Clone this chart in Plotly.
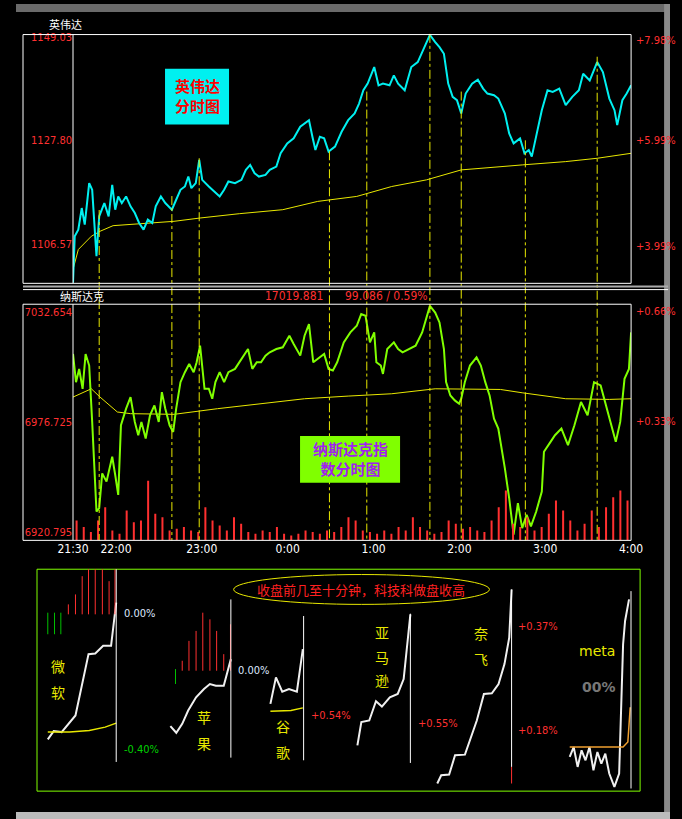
import plotly.graph_objects as go

W, H = 682, 819
FONT = "Noto Sans CJK SC"

# ---------------- data ----------------
nv_t = [0,1.2,3.7,6.1,8.2,11.3,13.4,15.2,16.4,18.3,21.9,24.9,27.4,29.5,31.6,34.1,37.1,40.2,43.2,46.2,49.3,52.3,55.4,57.8,61.4,64.5,69.1,72.1,75.1,78.2,80.6,82.7,85.8,88.2,90.3,94.9,99.5,102.5,105.6,108.6,113.2,117.7,120.8,123.8,126.9,129.9,134.5,137.5,142.1,145.1,149.7,154.2,158.8,161.8,164.9,167.3,169.4,172.5,175.5,178.6,183.1,187.7,192.3,196.8,199.9,202.9,205.9,210.5,213.5,216.6,221.2,224.2,227.2,231.8,236.4,240.9,245.5,249.4,253.1,256.1,259.2,262.2,265.3,268.3,271.3,274.4,278.9,282.9,286.6,289.6,294.2,297.2,301.8,304.8,307.9,312.4,315.5,318.5,320.6,324.6,327.6,331.6,335.2,339.8,344.3,348.9,353.5,356.5,361.1,366.3,370.3,374.8,378.4,380.3,383.9,386.9,390]
nv_p = [1098.65,1108.16,1109.52,1113.94,1110.54,1119.03,1117.67,1108.16,1104.09,1112.24,1114.96,1112.24,1118.69,1113.60,1116.32,1114.96,1116.32,1114.28,1112.92,1110.88,1109.52,1111.56,1110.88,1114.28,1116.32,1114.96,1113.60,1115.64,1117.67,1118.35,1120.39,1118.01,1119.03,1123.79,1119.71,1118.35,1116.99,1116.32,1117.67,1119.37,1119.03,1119.71,1121.75,1122.77,1121.07,1120.39,1120.73,1121.75,1122.43,1125.15,1127.19,1128.21,1130.58,1131.26,1131.94,1128.54,1125.83,1128.54,1128.21,1125.49,1126.51,1129.56,1131.94,1133.30,1135.34,1138.06,1139.42,1142.81,1139.07,1139.42,1139.07,1141.11,1139.42,1138.06,1142.81,1143.83,1146.89,1149.40,1147.91,1146.89,1145.53,1139.42,1136.70,1136.02,1133.30,1137.38,1139.42,1140.23,1138.40,1137.38,1137.04,1136.36,1133.30,1129.22,1127.19,1128.21,1125.15,1125.83,1124.47,1129.90,1133.98,1138.06,1137.72,1138.40,1135.00,1136.70,1138.06,1141.45,1140.09,1143.83,1141.79,1136.36,1133.98,1130.92,1136.02,1137.38,1139.07]
nv_avg_t = [0,3.7,12.8,18.9,28,49.3,70.6,88.8,116.2,146.6,171,198.3,222.7,247,271.3,313.9,344.3,366.3,390]
nv_avg = [1101.37,1105.44,1108.16,1109.18,1110.33,1110.74,1111.22,1111.90,1112.78,1113.60,1115.30,1116.32,1118.35,1119.71,1121.75,1122.77,1123.45,1124.13,1125.15]

nq_t = [0,2.1,4.3,6.7,8.8,11.3,13.4,15.2,16.4,18.3,20.4,23.4,25.6,27.4,29.5,31.6,33.5,37.1,40.2,43.2,45.6,47.8,50.8,53.8,56.9,59.9,62.1,64.5,67.5,70.0,72.1,75.1,78.2,81.2,84.3,86.4,88.8,91.9,94.9,97.3,99.5,102.5,105.6,108.6,113.2,116.2,119.2,122.3,125.3,128.4,131.4,134.5,137.5,142.1,146.6,151.2,154.2,158.8,161.8,164.9,167.9,172.5,175.5,178.6,181.6,184.6,189.2,193.8,198.3,201.4,204.4,207.5,210.5,212.0,215.1,216.6,219.6,224.2,227.2,230.3,234.8,239.4,244.0,249.4,253.1,256.1,259.2,260.7,263.7,266.8,269.8,271.3,273.8,277.4,282.0,285.0,288.1,291.1,294.2,297.2,301.8,304.8,307.9,310.9,313.9,317.0,320.0,323.7,327.6,329.1,333.7,336.8,341.3,345.9,350.4,355.0,359.6,364.1,368.7,371.7,374.8,379.3,382.4,385.4,388.5,390]
nq_v = [7011.26,6996.94,7003.68,6993.57,7011.26,7005.37,6976.73,6953.14,6931.24,6932.93,6950.62,6946.41,6953.14,6959.04,6949.77,6939.67,6975.04,6983.47,6989.36,6976.73,6969.99,6976.73,6968.30,6980.10,6985.15,6976.73,6991.89,6983.47,6975.04,6971.67,6983.47,6996.94,7002.00,7006.21,7002.00,7007.05,7015.47,6993.57,6993.57,6988.52,6996.94,7002.00,6996.94,7002.00,7003.68,7007.05,7010.42,7013.79,7003.68,7007.05,7007.05,7010.42,7012.10,7013.79,7014.63,7020.53,7016.32,7010.42,7020.53,7026.42,7007.05,7009.58,7011.26,7003.68,7002.84,7007.05,7017.16,7022.21,7025.58,7031.48,7030.63,7017.16,7022.21,7007.05,7005.37,7001.15,7013.79,7017.16,7013.79,7012.10,7013.79,7015.47,7022.21,7035.69,7032.32,7027.27,7013.79,6996.94,6990.20,6987.68,6985.99,6988.52,6996.94,7005.37,7009.58,7005.37,6996.94,6990.20,6978.41,6973.36,6953.14,6937.98,6919.45,6935.45,6922.82,6929.56,6923.66,6931.24,6941.36,6961.57,6966.62,6969.99,6973.36,6964.93,6975.04,6986.84,6980.10,6996.94,6995.26,6986.84,6978.41,6966.62,6976.73,6998.63,7003.68,7022.21]
nq_avg_t = [0,12.8,18.9,31,40.2,70.6,101,131.4,161.8,192.3,222.7,253.1,283.5,298.7,313.9,344.3,374.8,390]
nq_avg = [6989.36,6993.57,6989.36,6981.78,6980.94,6980.60,6983.47,6986.0,6988.52,6989.87,6991.05,6993.57,6993.57,6993.23,6991.55,6988.52,6988.18,6988.52]
vol = [60,40,25,60,100,30,20,90,55,60,180,80,70,30,35,40,30,25,100,60,45,30,70,50,25,20,30,25,40,20,15,20,30,25,20,30,25,40,70,60,30,25,20,30,20,40,30,70,40,30,20,25,60,50,35,40,30,25,60,100,150,50,40,70,30,40,80,120,90,60,30,50,90,40,100,130,150,120]
vol_t = [2.5 + 5 * i for i in range(len(vol))]
marks_t = [18.3, 69.1, 88.2, 179.2, 205.3, 249.4, 271.3, 316.1, 366.3]
marks_top = [207, 193, 155, 148, 88, 30, 88, 137, 53]

tick_t = [0, 30, 90, 150, 210, 270, 330, 390]
tick_lbl = ["21:30", "22:00", "23:00", "0:00", "1:00", "2:00", "3:00", "4:00"]
nv_ticks = [1106.57, 1127.80, 1149.03]
nv_pct = ["+3.99%", "+5.99%", "+7.98%"]
nq_ticks = [6920.795, 6976.725, 7032.654]
nq_pct = ["", "+0.33%", "+0.66%"]

ms_x = [45,60,80,115,148,165,185,205,218]; ms_y = [537,512,515,465,280,278,255,255,125]
ms_avg_x = [45,100,150,190,218]; ms_avg_y = [515,515,510,500,488]
ap_x = [355,370,385,400,420,440,455,470,490,508]; ap_y = [497,517,490,450,410,385,370,375,375,295]
gg_x = [608,622,638,655,675,690]; gg_y = [430,350,393,385,393,265]
gg_avg_x = [608,660,690]; gg_avg_y = [452,450,442]
am_x = [828,838,858,875,890,910,930,945,962]; am_y = [555,485,480,422,438,410,400,355,160]
nf_x = [1030,1040,1060,1075,1100,1130,1148,1168,1185,1200,1212,1218]; nf_y = [670,645,643,585,583,480,400,398,370,310,230,85]
mt_x = [1365,1375,1385,1395,1405,1415,1425,1435,1445,1455,1465,1478,1490,1497,1500,1505,1515]
mt_y = [590,560,620,570,600,560,630,575,610,580,640,680,640,400,250,180,115]
mt_avg_x = [1365,1500,1512,1518]; mt_avg_y = [560,560,545,440]
ms_bar_x = [45,62,78,97,115,132,148,165,183,200,215]
ms_bar_top = [155,155,155,130,100,45,20,20,20,60,20]
ms_bar_base = [220,220,220,160,160,160,160,160,160,160,160]
ms_bar_up = [0,0,0,1,1,1,1,1,1,1,1]
ap_bar_x = [368,385,402,420,437,455,472,490,507]
ap_bar_top = [325,300,240,210,155,175,210,280,190]
ap_bar_base = [370,330,330,330,330,330,330,330,330]
ap_bar_up = [0,1,1,1,1,1,1,1,1]

# the page is photographed with the figure occupying x = 16 .. 670
def px(x): return min(1.0, max(0.0, (x - 16) / 653.9))
def py(y): return 1 - y / H

fig = go.Figure()
fig.update_layout(width=W, height=H, margin=dict(l=0, r=0, t=0, b=0), autosize=False,
                  paper_bgcolor="black", plot_bgcolor="black", showlegend=False,
                  font=dict(family=FONT, color="white"))

XD = [px(73), px(631)]
fig.update_layout(
    xaxis=dict(domain=XD, range=[0, 390], showgrid=False, zeroline=False, showticklabels=False, anchor="y"),
    yaxis=dict(domain=[py(280.7), py(30.7)], range=[1098.52, 1149.47], showgrid=False, zeroline=False,
               tickvals=nv_ticks, ticktext=[f"{v:.2f}" for v in nv_ticks],
               tickfont=dict(color="#ff3030", size=11, family="DejaVu Sans Condensed"), ticks="", anchor="x"),
    xaxis2=dict(domain=XD, range=[0, 390], showgrid=False, zeroline=False, anchor="y2",
                tickvals=tick_t, ticktext=tick_lbl, tickfont=dict(color="white", size=12, family="DejaVu Sans Condensed"), ticks=""),
    yaxis2=dict(domain=[py(539), py(301.7)], range=[6916.58, 7036.53], showgrid=False, zeroline=False,
                tickvals=nq_ticks, ticktext=[f"{v:.3f}" for v in nq_ticks],
                tickfont=dict(color="#ff3030", size=11, family="DejaVu Sans Condensed"), ticks="", anchor="x2"),
    yaxis3=dict(domain=[py(539), py(301.7)], range=[0, 712], overlaying="y2", visible=False, anchor="x2"),
    xaxis4=dict(domain=[px(37), px(640)], range=[17.7, 1543], visible=False, anchor="y4"),
    yaxis4=dict(domain=[py(791), py(568)], range=[693, 24], visible=False, anchor="x4"),
)

fig.add_trace(go.Bar(x=vol_t, y=vol, width=1.4, marker=dict(color="#ff3030", line=dict(width=0)),
                     xaxis="x2", yaxis="y3"))
fig.add_trace(go.Scatter(x=nv_avg_t, y=nv_avg, mode="lines", line=dict(color="#e8e800", width=1), xaxis="x", yaxis="y"))
fig.add_trace(go.Scatter(x=nv_t, y=nv_p, mode="lines", line=dict(color="#00f0f0", width=2), xaxis="x", yaxis="y"))
fig.add_trace(go.Scatter(x=nq_avg_t, y=nq_avg, mode="lines", line=dict(color="#e8e800", width=1), xaxis="x2", yaxis="y2"))
fig.add_trace(go.Scatter(x=nq_t, y=nq_v, mode="lines", line=dict(color="#80ff00", width=2), xaxis="x2", yaxis="y2"))

shapes = []
for t, top in zip(marks_t, marks_top):
    shapes.append(dict(type="line", xref="x", yref="paper", x0=t, x1=t, y0=py(top), y1=py(539),
                       line=dict(color="#e8e800", width=1, dash="dashdot")))
for y0, y1 in [(30.7, 280.7), (301.7, 539)]:
    shapes.append(dict(type="rect", xref="paper", yref="paper", x0=px(23), x1=px(631), y0=py(y1), y1=py(y0),
                       line=dict(color="white", width=1)))
    shapes.append(dict(type="line", xref="paper", yref="paper", x0=px(73), x1=px(73), y0=py(y1), y1=py(y0),
                       line=dict(color="white", width=1)))
shapes.append(dict(type="line", xref="paper", yref="paper", x0=px(23), x1=px(668), y0=py(284), y1=py(284), line=dict(color="#aaaaaa", width=2)))
shapes.append(dict(type="line", xref="paper", yref="paper", x0=px(23), x1=px(668), y0=py(287), y1=py(287), line=dict(color="white", width=1)))
shapes.append(dict(type="rect", xref="paper", yref="paper", x0=0, x1=1, y0=py(8), y1=1, fillcolor="#6a6a6a", line=dict(width=0), layer="below"))
shapes.append(dict(type="rect", xref="paper", yref="paper", x0=px(664), x1=1, y0=0, y1=1, fillcolor="#8a8a8a", line=dict(width=0), layer="below"))
shapes.append(dict(type="rect", xref="paper", yref="paper", x0=0, x1=1, y0=0, y1=py(812), fillcolor="#bbbbbb", line=dict(width=0), layer="below"))
shapes.append(dict(type="rect", xref="paper", yref="paper", x0=px(165), x1=px(229), y0=py(121), y1=py(65), fillcolor="#00f0f0", line=dict(width=0)))
shapes.append(dict(type="rect", xref="paper", yref="paper", x0=px(300), x1=px(400), y0=py(481), y1=py(434), fillcolor="#80ff00", line=dict(width=0)))
shapes.append(dict(type="rect", xref="paper", yref="paper", x0=px(37), x1=px(640), y0=py(791), y1=py(568), line=dict(color="#80ff00", width=1)))
shapes.append(dict(type="circle", xref="x4", yref="y4", x0=515, x1=1162, y0=40, y1=130, line=dict(color="#e8e800", width=1)))
for xs, tops, bases, ups in [(ms_bar_x, ms_bar_top, ms_bar_base, ms_bar_up), (ap_bar_x, ap_bar_top, ap_bar_base, ap_bar_up)]:
    for x, t, b, u in zip(xs, tops, bases, ups):
        shapes.append(dict(type="line", xref="x4", yref="y4", x0=x, x1=x, y0=b, y1=t,
                           line=dict(color="#ff3030" if u else "#00c000", width=1)))
for x, y0, y1 in [(218, 20, 605), (508, 115, 592), (692, 165, 600), (962, 158, 608), (1218, 85, 620), (1520, 90, 685)]:
    shapes.append(dict(type="line", xref="x4", yref="y4", x0=x, x1=x, y0=y0, y1=y1, line=dict(color="white", width=1)))
shapes.append(dict(type="line", xref="x4", yref="y4", x0=1218, x1=1218, y0=620, y1=670, line=dict(color="#ff3030", width=1)))
fig.update_layout(shapes=shapes)

for xs, ys in [(ms_x, ms_y), (ap_x, ap_y), (gg_x, gg_y), (am_x, am_y), (nf_x, nf_y), (mt_x, mt_y)]:
    fig.add_trace(go.Scatter(x=xs, y=ys, mode="lines", line=dict(color="#f0f0f0", width=2), xaxis="x4", yaxis="y4"))
for xs, ys, c in [(ms_avg_x, ms_avg_y, "#e8e800"), (gg_avg_x, gg_avg_y, "#e8e800"), (mt_avg_x, mt_avg_y, "#f0a030")]:
    fig.add_trace(go.Scatter(x=xs, y=ys, mode="lines", line=dict(color=c, width=1.5), xaxis="x4", yaxis="y4"))

ann = []
def A(x, y, text, color="white", size=11, xanchor="center", ref="paper", family=FONT):
    if ref == "paper":
        ann.append(dict(x=px(x), y=py(y), xref="paper", yref="paper", text=text, showarrow=False,
                        font=dict(color=color, size=size, family=family), xanchor=xanchor, yanchor="middle"))
    else:
        ann.append(dict(x=x, y=y, xref="x4", yref="y4", text=text, showarrow=False,
                        font=dict(color=color, size=size, family=family), xanchor=xanchor, yanchor="middle"))

A(47, 20, "英伟达", xanchor="left")
A(58, 293, "纳斯达克", xanchor="left")
A(263, 293, "17019.881", "#ff3030", 12, "left", family="DejaVu Sans Condensed")
A(343, 293, "99.086 / 0.59%", "#ff3030", 12, "left", family="DejaVu Sans Condensed")
for yy, t in zip([244, 137, 37], nv_pct):
    A(634, yy, t, "#ff3030", 11, "left", family="DejaVu Sans Condensed")
for yy, t in zip([0, 420, 309], nq_pct):
    if t:
        A(634, yy, t, "#ff3030", 11, "left", family="DejaVu Sans Condensed")
A(197, 92, "<b>英伟达<br>分时图</b>", "#ff0000", 15)
A(350, 457, "<b>纳斯达克指<br>数分时图</b>", "#a020f0", 15)
A(838, 85, "收盘前几至十分钟，科技科做盘收高", "#ff2020", 13, ref="x4")
A(232, 158, "0.00%", "#dde8ff", 11, "left", ref="x4", family="DejaVu Sans Condensed")
A(232, 568, "-0.40%", "#00d000", 11, "left", ref="x4", family="DejaVu Sans Condensed")
A(70, 315, "微", "#e8e800", 14, ref="x4"); A(70, 393, "软", "#e8e800", 14, ref="x4")
A(520, 328, "0.00%", "#dde8ff", 11, "left", ref="x4", family="DejaVu Sans Condensed")
A(440, 468, "苹", "#e8e800", 14, ref="x4"); A(440, 548, "果", "#e8e800", 14, ref="x4")
A(705, 465, "+0.54%", "#ff3030", 11, "left", ref="x4", family="DejaVu Sans Condensed")
A(640, 497, "谷", "#e8e800", 14, ref="x4"); A(640, 575, "歌", "#e8e800", 14, ref="x4")
A(890, 212, "亚", "#e8e800", 14, ref="x4"); A(890, 288, "马", "#e8e800", 14, ref="x4"); A(890, 357, "逊", "#e8e800", 14, ref="x4")
A(975, 490, "+0.55%", "#ff3030", 11, "left", ref="x4", family="DejaVu Sans Condensed")
A(1140, 215, "奈", "#e8e800", 14, ref="x4"); A(1140, 295, "飞", "#e8e800", 14, ref="x4")
A(1230, 198, "+0.37%", "#ff3030", 11, "left", ref="x4", family="DejaVu Sans Condensed")
A(1230, 510, "+0.18%", "#ff3030", 11, "left", ref="x4", family="DejaVu Sans Condensed")
A(1435, 270, "meta", "#e8e800", 14, ref="x4", family="DejaVu Sans")
A(1440, 380, "<b>00%</b>", "#777777", 14, ref="x4", family="DejaVu Sans")
fig.update_layout(annotations=ann)

fig.write_html("out.html", config={"displayModeBar": False, "responsive": False},
               default_width="682px", default_height="819px",
               post_script="document.body.style.margin='0';document.body.style.overflow='hidden';document.body.style.background='black';")
